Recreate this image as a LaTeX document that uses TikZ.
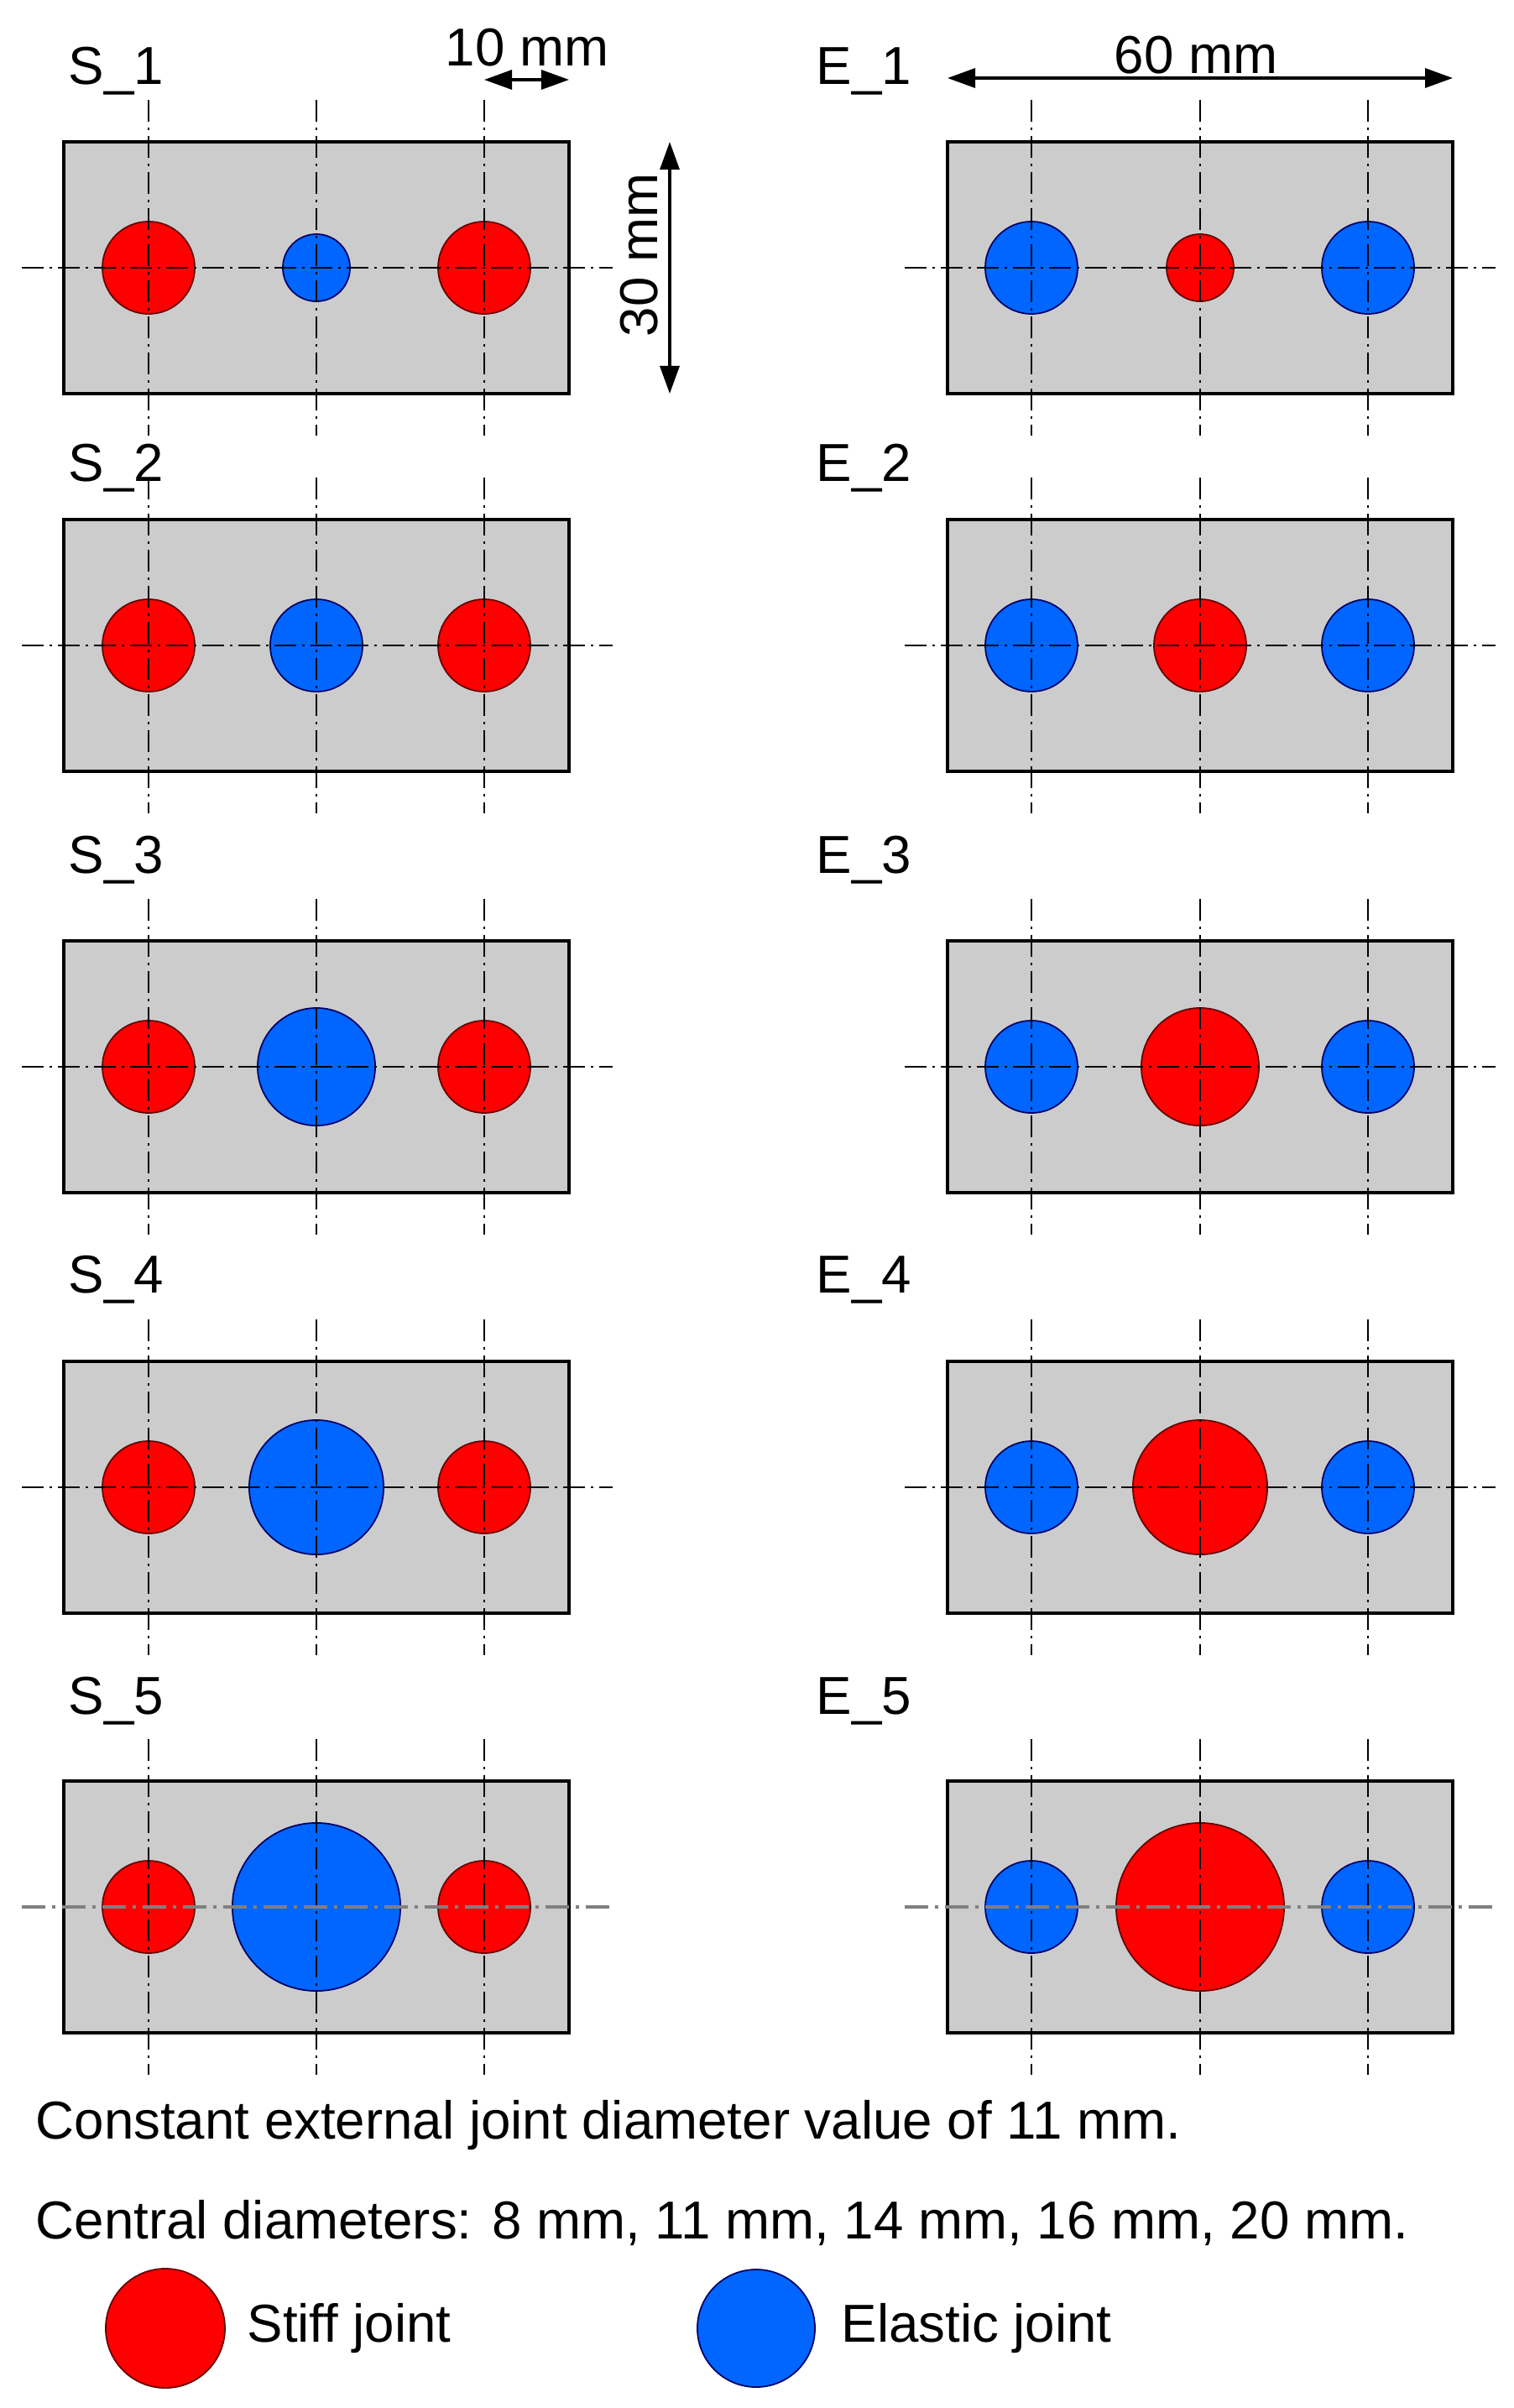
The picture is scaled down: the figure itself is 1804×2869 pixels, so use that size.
\documentclass[tikz,border=0pt]{standalone}
\usepackage{fontspec}
\setmainfont{Liberation Sans}
\usetikzlibrary{arrows.meta}
\definecolor{stiffred}{RGB}{255,0,0}
\definecolor{elasticblue}{RGB}{0,102,255}
\definecolor{plategray}{RGB}{204,204,204}
\definecolor{linegray}{RGB}{128,128,128}
\tikzset{
  plate/.style={rectangle, fill=plategray, draw=black, line width=1pt, inner sep=0pt},
  stiff/.style={circle, fill=stiffred, draw=red!40!black, line width=0.5pt, inner sep=0pt},
  elastic/.style={circle, fill=elasticblue, draw=blue!40!black, line width=0.5pt, inner sep=0pt},
  axisline/.style={line width=0.8pt, dash pattern=on 0.26cm off 0.07cm on 0.03cm off 0.07cm},
  axisgray/.style={line width=1.4pt, draw=linegray, dash pattern=on 0.28cm off 0.08cm on 0.04cm off 0.08cm},
  dimarrow/.style={line width=0.9pt, {Triangle[length=0.33cm,width=0.23cm]}-{Triangle[length=0.33cm,width=0.23cm]}},
  lbl/.style={inner sep=0pt, font=\fontsize{18.1}{22}\selectfont},
}
\begin{document}
\begin{tikzpicture}[x=0.01cm,y=-0.01cm]
\useasboundingbox (0,0) rectangle (1804,2869);
\foreach \i/\top/\lab/\r in {1/169/100/40, 2/619/573/55, 3/1121/1040/70, 4/1622/1540/80, 5/2122/2042/100}{
  \pgfmathsetmacro\c{\top+150}
  \pgfmathsetmacro\d{\r*0.02}
  % left (stiff outer, elastic centre)
  \node[plate, minimum width=6.02cm, minimum height=3cm] (S\i) at (377,\c) {};
  \node[stiff, minimum size=1.1cm] (S\i a) at (177,\c) {};
  \node[elastic, minimum size=\d cm] (S\i b) at (377,\c) {};
  \node[stiff, minimum size=1.1cm] (S\i c) at (577,\c) {};
  \node[lbl, anchor=base west] (S\i l) at (81,\lab) {S\_\i};
  % right (elastic outer, stiff centre)
  \node[plate, minimum width=6.02cm, minimum height=3cm] (E\i) at (1430,\c) {};
  \node[elastic, minimum size=1.1cm] (E\i a) at (1229,\c) {};
  \node[stiff, minimum size=\d cm] (E\i b) at (1430,\c) {};
  \node[elastic, minimum size=1.1cm] (E\i c) at (1630,\c) {};
  \node[lbl, anchor=base west] (E\i l) at (972,\lab) {E\_\i};
  % centre lines
  \foreach \x in {177,377,577,1229,1430,1630}{
    \draw[axisline] (\x,{\top-50}) -- (\x,{\top+350});
  }
  \ifnum\i=5
    \draw[axisgray] (26,\c) -- (730,\c);
    \draw[axisgray] (1078,\c) -- (1782,\c);
  \else
    \draw[axisline] (26,\c) -- (730,\c);
    \draw[axisline] (1078,\c) -- (1782,\c);
  \fi
}
% dimensions
\coordinate (d10a) at (577,95);
\coordinate (d10b) at (678,95);
\draw[dimarrow] (d10a) -- (d10b);
\node[lbl, anchor=base] (t10) at (628,78) {10 mm};
\coordinate (d30a) at (798,169);
\coordinate (d30b) at (798,469);
\draw[dimarrow] (d30a) -- (d30b);
\node[lbl, anchor=base, rotate=90] (t30) at (783,304) {30 mm};
\coordinate (d60a) at (1129,93);
\coordinate (d60b) at (1731,93);
\draw[dimarrow] (d60a) -- (d60b);
\node[lbl, anchor=base] (t60) at (1425,87) {60 mm};
% notes
\node[lbl, anchor=base west] (note1) at (42,2548) {Constant external joint diameter value of 11 mm.};
\node[lbl, anchor=base west] (note2) at (42,2667) {Central diameters: 8 mm, 11 mm, 14 mm, 16 mm, 20 mm.};
% legend
\node[stiff, minimum size=1.42cm] (legS) at (197,2774) {};
\node[lbl, anchor=base west] (legSt) at (294,2790) {Stiff joint};
\node[elastic, minimum size=1.40cm] (legE) at (901,2774) {};
\node[lbl, anchor=base west] (legEt) at (1002,2790) {Elastic joint};
\end{tikzpicture}
\end{document}
